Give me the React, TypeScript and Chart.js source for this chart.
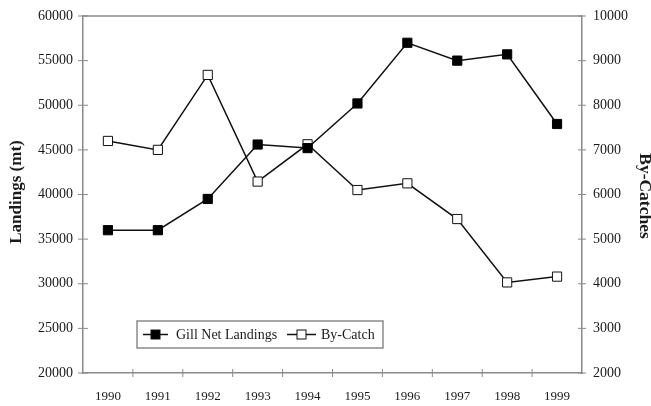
import React, { useEffect, useRef } from "react";
import { Chart, registerables } from "chart.js";

Chart.register(...registerables);

const years = ["1990", "1991", "1992", "1993", "1994", "1995", "1996", "1997", "1998", "1999"];
const landings = [36000, 36000, 39500, 45600, 45200, 50200, 57000, 55000, 55700, 47900];
const byCatch = [7200, 7000, 8680, 6290, 7125, 6100, 6250, 5450, 4030, 4160];
const leftTitle = "Landings (mt)";
const rightTitle = "By-Catches";
const seriesNames = ["Gill Net Landings", "By-Catch"];

const AXIS = "#8a8a8a";
const TEXT = "#1a1a1a";
const FONT = "Liberation Serif";

const decor = {
  id: "decor",
  afterDraw(chart: any) {
    const ctx = chart.ctx;
    const a = chart.chartArea;
    const sy = chart.scales.y;
    const sy1 = chart.scales.y1;
    ctx.save();
    ctx.strokeStyle = AXIS;
    ctx.lineWidth = 1.5;
    ctx.beginPath();
    ctx.moveTo(a.left, a.top);
    ctx.lineTo(a.right, a.top);
    ctx.stroke();
    ctx.lineWidth = 1;
    ctx.beginPath();
    sy.ticks.forEach((t: any) => {
      const y = sy.getPixelForValue(t.value);
      ctx.moveTo(a.left - 5, y);
      ctx.lineTo(a.left + 5, y);
    });
    sy1.ticks.forEach((t: any) => {
      const y = sy1.getPixelForValue(t.value);
      ctx.moveTo(a.right - 4, y);
      ctx.lineTo(a.right + 4, y);
    });
    const n = years.length;
    for (let i = 1; i < n; i++) {
      const x = a.left + (i * (a.right - a.left)) / n;
      ctx.moveTo(x, a.bottom - 4);
      ctx.lineTo(x, a.bottom + 4);
    }
    ctx.stroke();

    ctx.fillStyle = TEXT;
    ctx.textAlign = "center";
    ctx.textBaseline = "middle";
    ctx.save();
    ctx.font = `bold 17px "${FONT}"`;
    ctx.translate(17, 192);
    ctx.rotate(-Math.PI / 2);
    ctx.fillText(leftTitle, 0, 0);
    ctx.restore();
    ctx.save();
    ctx.font = `bold 17.5px "${FONT}"`;
    ctx.translate(645, 196);
    ctx.rotate(Math.PI / 2);
    ctx.fillText(rightTitle, 0, 0);
    ctx.restore();

    const lx = 137, ly = 321, lw = 246, lh = 27;
    ctx.fillStyle = "#ffffff";
    ctx.fillRect(lx, ly, lw, lh);
    ctx.strokeStyle = AXIS;
    ctx.lineWidth = 1.5;
    ctx.strokeRect(lx, ly, lw, lh);
    const cy = ly + lh / 2;
    const items = [
      { x0: 143, x1: 168, text: seriesNames[0], fill: "#000000", tx: 176 },
      { x0: 287, x1: 316, text: seriesNames[1], fill: "#ffffff", tx: 321 },
    ];
    ctx.font = `14px "${FONT}"`;
    ctx.textAlign = "left";
    items.forEach((it) => {
      ctx.strokeStyle = "#111";
      ctx.lineWidth = 1.5;
      ctx.beginPath();
      ctx.moveTo(it.x0, cy);
      ctx.lineTo(it.x1, cy);
      ctx.stroke();
      const mx = (it.x0 + it.x1) / 2;
      ctx.fillStyle = it.fill;
      ctx.fillRect(mx - 4.5, cy - 4.5, 9, 9);
      ctx.lineWidth = 1;
      ctx.strokeRect(mx - 4.5, cy - 4.5, 9, 9);
      ctx.fillStyle = TEXT;
      ctx.fillText(it.text, it.tx, cy + 1);
    });
    ctx.restore();
  },
};

const plain = (v: any) => String(v);

export default function App() {
  const ref = useRef<HTMLCanvasElement>(null);
  useEffect(() => {
    const chart = new Chart(ref.current as HTMLCanvasElement, {
      type: "line",
      data: {
        labels: years,
        datasets: [
          {
            label: seriesNames[0],
            data: landings,
            yAxisID: "y",
            borderColor: "#111",
            borderWidth: 1.5,
            pointStyle: "rect",
            pointRadius: 6.5,
            pointBackgroundColor: "#000",
            pointBorderColor: "#000",
            pointBorderWidth: 1,
            tension: 0,
          },
          {
            label: seriesNames[1],
            data: byCatch,
            yAxisID: "y1",
            borderColor: "#111",
            borderWidth: 1.5,
            pointStyle: "rect",
            pointRadius: 6.5,
            pointBackgroundColor: "#fff",
            pointBorderColor: "#111",
            pointBorderWidth: 1,
            tension: 0,
          },
        ],
      },
      options: {
        animation: false,
        responsive: false,
        maintainAspectRatio: false,
        layout: { padding: { top: 16, left: 0, right: 0, bottom: 0 } },
        plugins: { legend: { display: false }, tooltip: { enabled: false } },
        scales: {
          x: {
            type: "category",
            offset: true,
            grid: { display: false },
            border: { display: true, color: AXIS, width: 1.5 },
            ticks: { color: TEXT, font: { family: FONT, size: 13 }, padding: 8, maxRotation: 0, autoSkip: false },
            afterFit: (s: any) => { s.height = 33; },
          },
          y: {
            position: "left",
            min: 20000,
            max: 60000,
            grid: { display: false },
            border: { display: true, color: AXIS, width: 1.5 },
            ticks: { stepSize: 5000, color: TEXT, font: { family: FONT, size: 14 }, padding: 2, callback: plain },
            afterFit: (s: any) => { s.width = 83; },
          },
          y1: {
            position: "right",
            min: 2000,
            max: 10000,
            grid: { display: false },
            border: { display: true, color: AXIS, width: 1.5 },
            ticks: { stepSize: 1000, color: TEXT, font: { family: FONT, size: 14 }, padding: 3, callback: plain },
            afterFit: (s: any) => { s.width = 69; },
          },
        },
      },
      plugins: [decor],
    });
    return () => chart.destroy();
  }, []);
  return (
    <div style={{ position: "fixed", left: 0, top: 0, width: 651, height: 406, background: "#fff" }}>
      <canvas ref={ref} width={651} height={406} style={{ display: "block", width: 651, height: 406 }} />
    </div>
  );
}
